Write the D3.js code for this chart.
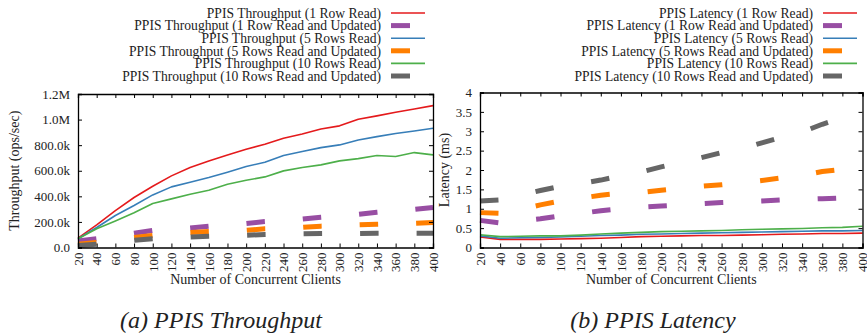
<!DOCTYPE html>
<html>
<head>
<meta charset="utf-8">
<script src="https://cdn.jsdelivr.net/npm/d3@7.9.0/dist/d3.min.js"></script>
<style>
  body { margin: 0; background: #fff; }
  svg { display: block; font-family: "Liberation Serif", "DejaVu Serif", serif; }
</style>
</head>
<body>
<svg id="chart" width="867" height="336"></svg>
<script>
// number of concurrent clients (x values)
const clients = [20, 40, 60, 80, 100, 120, 140, 160, 180, 200, 220, 240, 260, 280, 300, 320, 340, 360, 380, 400];

// throughput, thousands of ops/sec
const tpRead1     = [73, 177, 289, 391, 479, 560, 625, 677, 724, 768, 807, 854, 888, 927, 951, 1003, 1029, 1057, 1083, 1109];
const tpReadUpd1  = [50, 68, 90, 112, 133, 142, 152, 167, 178, 188, 203, 212, 222, 237, 248, 260, 276, 290, 298, 313];
const tpRead5     = [68, 156, 250, 328, 411, 474, 510, 547, 589, 633, 667, 719, 750, 781, 802, 841, 867, 891, 911, 932];
const tpReadUpd5  = [26, 39, 58, 78, 94, 110, 118, 125, 130, 134, 146, 150, 157, 167, 172, 177, 182, 186, 189, 195];
const tpRead10    = [68, 146, 208, 271, 344, 380, 417, 448, 495, 526, 552, 599, 625, 646, 677, 695, 719, 711, 742, 724];
const tpReadUpd10 = [16, 26, 42, 57, 68, 75, 81, 88, 93, 96, 102, 105, 107, 109, 110, 110, 112, 112, 112, 112];

// latency, ms
const latRead1     = [0.27, 0.21, 0.21, 0.21, 0.22, 0.23, 0.24, 0.26, 0.28, 0.29, 0.30, 0.31, 0.31, 0.32, 0.33, 0.34, 0.35, 0.36, 0.36, 0.37];
const latReadUpd1  = [0.70, 0.63, 0.68, 0.74, 0.82, 0.88, 0.95, 1.00, 1.04, 1.07, 1.10, 1.13, 1.16, 1.18, 1.20, 1.23, 1.24, 1.26, 1.28, 1.30];
const latRead5     = [0.30, 0.24, 0.25, 0.26, 0.27, 0.29, 0.31, 0.32, 0.34, 0.35, 0.36, 0.37, 0.38, 0.39, 0.40, 0.41, 0.42, 0.43, 0.43, 0.44];
const latReadUpd5  = [0.90, 0.88, 0.98, 1.10, 1.20, 1.27, 1.35, 1.40, 1.42, 1.48, 1.53, 1.58, 1.62, 1.67, 1.73, 1.80, 1.86, 1.96, 2.02, 2.08];
const latRead10    = [0.33, 0.28, 0.29, 0.30, 0.30, 0.32, 0.35, 0.37, 0.39, 0.41, 0.42, 0.43, 0.44, 0.46, 0.47, 0.48, 0.49, 0.51, 0.52, 0.55];
const latReadUpd10 = [1.20, 1.23, 1.35, 1.47, 1.58, 1.65, 1.74, 1.85, 1.95, 2.08, 2.20, 2.32, 2.45, 2.55, 2.70, 2.85, 2.98, 3.18, 3.35, 3.50];

// tick values and labels
const tpTicks = [0, 200, 400, 600, 800, 1000, 1200];
const tpTickLabels = ['0.0', '200.0k', '400.0k', '600.0k', '800.0k', '1.0M', '1.2M'];
const latTicks = [0, 0.5, 1, 1.5, 2, 2.5, 3, 3.5, 4];
const latTickLabels = ['0', '0.5', '1', '1.5', '2', '2.5', '3', '3.5', '4'];

const seriesNames = ['1 Row Read', '1 Row Read and Updated', '5 Rows Read',
                     '5 Rows Read and Updated', '10 Rows Read', '10 Rows Read and Updated'];
const seriesColors = ['#e41a1c', '#984ea3', '#377eb8', '#ff7f00', '#4daf4a', '#666666'];
const seriesDashed = [false, true, false, true, false, true];

const svg = d3.select('#chart');

function drawPanel(opts) {
    const { left, right, top, bottom } = opts.box;
    const g = svg.append('g');

    const x = d3.scaleLinear().domain([20, 400]).range([left, right]);
    const y = d3.scaleLinear().domain(opts.yDomain).range([bottom, top]);

    // lines
    const line = d3.line().x((d, i) => x(clients[i])).y(d => y(d));
    opts.series.forEach((vals, i) => {
        g.append('path')
            .datum(vals)
            .attr('d', line)
            .attr('fill', 'none')
            .attr('stroke', seriesColors[i])
            .attr('stroke-width', seriesDashed[i] ? 5 : 1.6)
            .attr('stroke-linecap', 'butt')
            .attr('stroke-linejoin', 'round')
            .attr('stroke-dasharray', seriesDashed[i] ? '18.5,38' : null);
    });

    // axes, ticks pointing in, mirrored on top/right
    const fmt = (d) => opts.tickLabels[opts.ticks.indexOf(d)];
    g.append('g')
        .attr('transform', `translate(${left},0)`)
        .call(d3.axisLeft(y).tickValues(opts.ticks).tickSize(-4).tickPadding(8).tickFormat(fmt))
        .call(a => a.selectAll('text').attr('font-size', 13).attr('font-family', 'Liberation Serif').attr('fill', '#222'));
    g.append('g')
        .attr('transform', `translate(${right},0)`)
        .call(d3.axisRight(y).tickValues(opts.ticks).tickSize(-4).tickFormat(''));
    g.append('g')
        .attr('transform', `translate(0,${bottom})`)
        .call(d3.axisBottom(x).tickValues(clients).tickSize(-4).tickFormat(d3.format('d')))
        .call(a => a.selectAll('text')
            .attr('font-size', 13)
            .attr('font-family', 'Liberation Serif')
            .attr('fill', '#222')
            .attr('text-anchor', 'end')
            .attr('transform', 'rotate(-90)')
            .attr('x', -5)
            .attr('y', 0)
            .attr('dy', '0.33em'));
    g.append('g')
        .attr('transform', `translate(0,${top})`)
        .call(d3.axisTop(x).tickValues(clients).tickSize(-4).tickFormat(''));
    g.selectAll('.domain').attr('stroke', '#000').attr('stroke-width', 1.3);
    g.selectAll('.tick line').attr('stroke', '#000');

    // axis titles
    g.append('text')
        .attr('x', (left + right) / 2)
        .attr('y', bottom + 36)
        .attr('text-anchor', 'middle')
        .attr('font-size', 14)
        .attr('fill', '#222')
        .text('Number of Concurrent Clients');
    g.append('text')
        .attr('transform', `translate(${opts.yTitleX},${(top + bottom) / 2}) rotate(-90)`)
        .attr('text-anchor', 'middle')
        .attr('font-size', 14)
        .attr('fill', '#222')
        .text(opts.yTitle);

    // legend
    seriesNames.forEach((name, i) => {
        const ly = 13 + i * 12.6;
        g.append('text')
            .attr('x', opts.legendX)
            .attr('y', ly)
            .attr('dy', '0.35em')
            .attr('text-anchor', 'end')
            .attr('font-size', 13.6)
            .attr('fill', '#222')
            .text(`${opts.prefix} (${name})`);
        g.append('line')
            .attr('x1', opts.legendX + 10)
            .attr('x2', opts.legendX + (seriesDashed[i] ? 29 : 44))
            .attr('y1', ly)
            .attr('y2', ly)
            .attr('stroke', seriesColors[i])
            .attr('stroke-width', seriesDashed[i] ? 5 : 1.6);
    });

    // caption
    g.append('text')
        .attr('x', opts.captionX)
        .attr('y', 328)
        .attr('text-anchor', 'middle')
        .attr('font-size', 24)
        .attr('font-style', 'italic')
        .attr('fill', '#222')
        .text(opts.caption);
}

drawPanel({
    box: { left: 78, right: 433, top: 94, bottom: 247.5 },
    yDomain: [0, 1200],
    ticks: tpTicks,
    tickLabels: tpTickLabels,
    series: [tpRead1, tpReadUpd1, tpRead5, tpReadUpd5, tpRead10, tpReadUpd10],
    yTitle: 'Throughput (ops/sec)',
    yTitleX: 19,
    prefix: 'PPIS Throughput',
    legendX: 381,
    caption: '(a) PPIS Throughput',
    captionX: 221
});

drawPanel({
    box: { left: 480, right: 862.5, top: 92.5, bottom: 247.5 },
    yDomain: [0, 4],
    ticks: latTicks,
    tickLabels: latTickLabels,
    series: [latRead1, latReadUpd1, latRead5, latReadUpd5, latRead10, latReadUpd10],
    yTitle: 'Latency (ms)',
    yTitleX: 449,
    prefix: 'PPIS Latency',
    legendX: 813,
    caption: '(b) PPIS Latency',
    captionX: 653
});
</script>
</body>
</html>
